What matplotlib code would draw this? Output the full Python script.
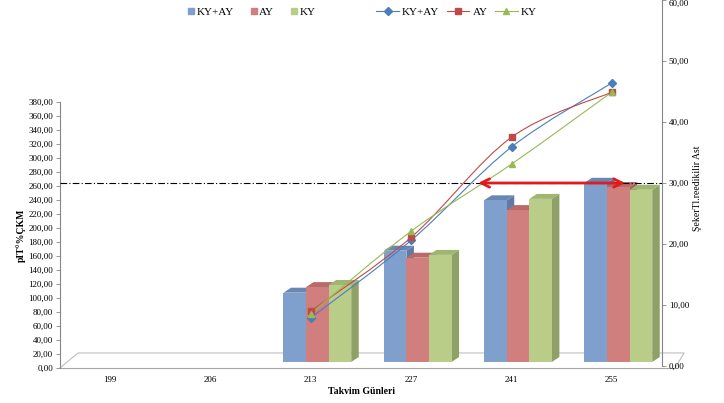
import numpy as np
import matplotlib
matplotlib.use("Agg")
import matplotlib.pyplot as plt
from matplotlib.path import Path
from matplotlib.patches import PathPatch, Polygon
from matplotlib.lines import Line2D

plt.rcParams['font.family'] = ['Liberation Serif', 'DejaVu Serif']

# --- data ---
days = ["199", "206", "213", "227", "241", "255"]
series = ["KY+AY", "AY", "KY"]

# bars (left axis)
bar_kyay = [np.nan, np.nan, 99, 159, 231, 256]
bar_ay = [np.nan, np.nan, 107, 149, 217, 250]
bar_ky = [np.nan, np.nan, 110, 153, 233, 246]

# lines (right axis)
line_kyay = [np.nan, np.nan, 7.9, 20.6, 35.9, 46.4]
line_ay = [np.nan, np.nan, 9.0, 21.1, 37.5, 44.9]
line_ky = [np.nan, np.nan, 8.6, 22.1, 33.1, 44.9]

ref_level = 30          # dash-dot reference (right axis)
arrow_span = (3.64, 5.16)

front_cols = ["#7f9fcd", "#d07f7e", "#b9cd88"]
top_cols = ["#6986b5", "#b96a69", "#a0b572"]
side_cols = ["#5f7aa6", "#a65e5d", "#8fa166"]
line_cols = ["#4a7ebb", "#be4b48", "#98b954"]
markers = ["D", "s", "^"]

W, H = 724, 403
fig = plt.figure(figsize=(W / 100, H / 100), dpi=100)

# bar axes
ax = fig.add_axes([60 / W, (H - 368) / H, 602 / W, (368 - 102) / H])
ax.set_xlim(-0.5, 5.5)
ax.set_ylim(0, 380)
ax.patch.set_visible(False)

bw = 0.225
shift_x, shift_y = 0.065, 8.6     # front-face offset (3D look)
dep_x, dep_y = 0.075, 7.1         # depth of the columns

x = np.arange(len(days))
for k, vals in enumerate([bar_kyay, bar_ay, bar_ky]):
    for i, v in enumerate(vals):
        if np.isnan(v):
            continue
        x0 = x[i] + (k - 1) * bw - bw / 2 + shift_x
        x1 = x0 + bw
        y0 = shift_y
        y1 = shift_y + v
        ax.add_patch(Polygon([(x1, y0), (x1 + dep_x, y0 + dep_y), (x1 + dep_x, y1 + dep_y), (x1, y1)],
                             closed=True, fc=side_cols[k], ec="none", zorder=2 + k))
        ax.add_patch(Polygon([(x0, y1), (x0 + dep_x, y1 + dep_y), (x1 + dep_x, y1 + dep_y), (x1, y1)],
                             closed=True, fc=top_cols[k], ec="none", zorder=2 + k))
        ax.bar(x0, v, width=bw, bottom=y0, align="edge", color=front_cols[k],
               edgecolor="none", zorder=2 + k)

# floor of the 3D chart
floor_back = 21.5
ax.plot([-0.5, -0.32, 5.72, 5.63], [0, floor_back, floor_back, 0], color="#bfbfbf",
        lw=0.8, clip_on=False, zorder=1)
ax.plot([-0.5, 5.63], [0, 0], color="#a6a6a6", lw=0.8, clip_on=False, zorder=1)

ax.set_yticks(np.arange(0, 381, 20))
ax.set_yticklabels([f"{v:.2f}".replace(".", ",") for v in np.arange(0, 381, 20)], fontsize=6.5)
ax.set_xticks(x)
ax.set_xticklabels(days, fontsize=6.5)
ax.tick_params(axis="x", length=0, pad=6)
ax.tick_params(axis="y", length=3, width=0.6, color="#868686", pad=2)
for s in ["top", "right", "bottom"]:
    ax.spines[s].set_visible(False)
ax.spines["left"].set_color("#868686")
ax.spines["left"].set_linewidth(0.8)
ax.set_xlabel("Takvim Günleri", fontsize=7, fontweight="bold", labelpad=2)
ax.set_ylabel("pIT°%ÇKM", fontsize=7, fontweight="bold", labelpad=2)


# line axes (right)
ax2 = fig.add_axes([60 / W, (H - 366) / H, 602 / W, 366 / H])
ax2.set_xlim(-0.5, 5.5)
ax2.set_ylim(0, 60)
ax2.patch.set_visible(False)
for s in ["top", "left", "bottom"]:
    ax2.spines[s].set_visible(False)
ax2.spines["right"].set_color("#868686")
ax2.spines["right"].set_linewidth(0.8)
ax2.set_xticks([])
ax2.yaxis.tick_right()
ax2.set_yticks(np.arange(0, 61, 10))
ax2.set_yticklabels([f"{v:.2f}".replace(".", ",") for v in np.arange(0, 61, 10)], fontsize=6.5)
ax2.tick_params(axis="y", length=3, width=0.6, color="#868686", pad=2)
ax2.get_yticklabels()[-1].set_va("top")


def smooth_path(xs, ys):
    pts = [(a, b) for a, b in zip(xs, ys) if not np.isnan(b)]
    p = np.array(pts, dtype=float)
    verts = [p[0]]
    codes = [Path.MOVETO]
    n = len(p)
    for i in range(n - 1):
        pm = p[i - 1] if i > 0 else p[i]
        pp = p[i + 2] if i + 2 < n else p[i + 1]
        c1 = p[i] + (p[i + 1] - pm) / 6
        c2 = p[i + 1] - (pp - p[i]) / 6
        verts += [c1, c2, p[i + 1]]
        codes += [Path.CURVE4] * 3
    return Path(verts, codes)


for k, vals in enumerate([line_kyay, line_ay, line_ky]):
    ax2.add_patch(PathPatch(smooth_path(x, vals), fc="none", ec=line_cols[k], lw=0.8, zorder=6))
    ax2.plot(x, vals, ls="none", marker=markers[k], ms=4 if k == 0 else 4.5,
             color=line_cols[k], zorder=7)

ax2.axhline(ref_level, color="black", lw=0.8, ls=(0, (6, 2, 1, 2)), zorder=5)
ax2.annotate("", xy=(arrow_span[0], ref_level), xytext=(arrow_span[1], ref_level),
             arrowprops=dict(arrowstyle="<->,head_length=0.6,head_width=0.3",
                             color="#e01b1b", lw=2), zorder=8)

fig.text(697 / W, (H - 188) / H, "ŞekerTl.reedikilir Ast", rotation=90,
         ha="center", va="center", fontsize=7)

# legends
bar_handles = [Line2D([], [], ls="none", marker="s", ms=4, color=c) for c in front_cols]
fig.legend(bar_handles, series, loc="center left", bbox_to_anchor=(183 / W, (H - 12) / H),
           ncol=3, frameon=False, fontsize=8, handlelength=0.6, handletextpad=0.2,
           columnspacing=1.5, borderaxespad=0)
line_handles = [Line2D([], [], color=c, marker=m, ms=4, lw=0.8) for c, m in zip(line_cols, markers)]
fig.legend(line_handles, series, loc="center left", bbox_to_anchor=(372 / W, (H - 12) / H),
           ncol=3, frameon=False, fontsize=8, handlelength=2.0, handletextpad=0.3,
           columnspacing=0.7, borderaxespad=0)

fig.savefig("out.png", dpi=100)
